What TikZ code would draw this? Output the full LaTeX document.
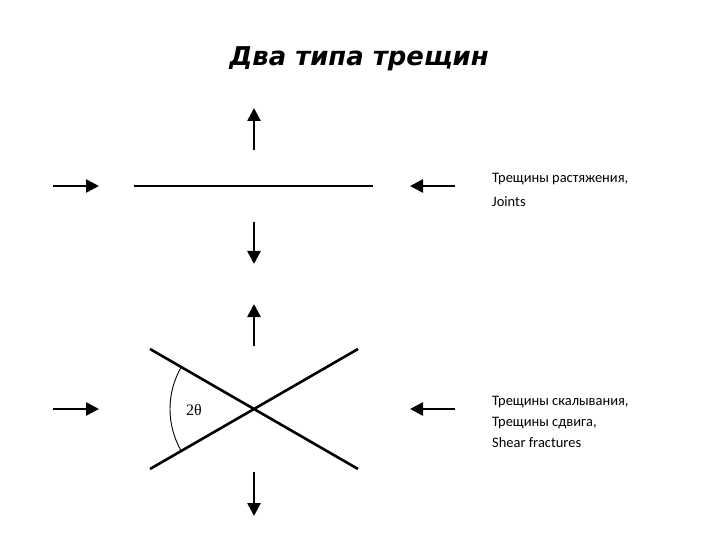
\documentclass[tikz,border=0pt]{standalone}
\usepackage{fontspec}
\setmainfont{Carlito}
\newfontfamily\titlefont{DejaVu Sans}
\newfontfamily\anglefont{Liberation Serif}
\usetikzlibrary{arrows.meta}

\begin{document}
\begin{tikzpicture}[x=1bp,y=-1bp,
    push/.style={line width=2.6bp,-{Triangle[length=13bp,width=13bp]}},
    crack/.style={line width=2.6bp},
    caption/.style={anchor=north west,align=left,inner sep=0pt,
        font=\fontsize{14.5}{21}\selectfont}]
    \useasboundingbox (0,0) rectangle (720,540);
    \node[font=\titlefont\bfseries\itshape\fontsize{26}{30}\selectfont] (title) at (359,59) {Два типа трещин};
    % tension joint
    \coordinate (J1) at (134,186);
    \coordinate (J2) at (373,186);
    \coordinate (JupS) at (254,150);
    \coordinate (JupE) at (254,108);
    \coordinate (JdnS) at (254,222);
    \coordinate (JdnE) at (254,264);
    \coordinate (JlS) at (53,186);
    \coordinate (JlE) at (99,186);
    \coordinate (JrS) at (455,186);
    \coordinate (JrE) at (410,186);
    \draw[crack] (J1) -- (J2);
    \draw[push] (JupS) -- (JupE);
    \draw[push] (JdnS) -- (JdnE);
    \draw[push] (JlS) -- (JlE);
    \draw[push] (JrS) -- (JrE);
    \node[caption] (joints) at (492,173) {Трещины растяжения,\\[3bp]Joints};
    % shear fractures
    \coordinate (O) at (254,409);
    \coordinate (S1) at (150,349);
    \coordinate (S2) at (358,469);
    \coordinate (S3) at (150,469);
    \coordinate (S4) at (358,349);
    \coordinate (SupS) at (254,346);
    \coordinate (SupE) at (254,304);
    \coordinate (SdnS) at (254,472);
    \coordinate (SdnE) at (254,516);
    \coordinate (SlS) at (53,409);
    \coordinate (SlE) at (99,409);
    \coordinate (SrS) at (455,409);
    \coordinate (SrE) at (410,409);
    \draw[crack] (S1) -- (S2);
    \draw[crack] (S3) -- (S4);
    \draw[line width=0.9bp] ([shift={(150:84)}]O) arc[start angle=150,end angle=210,radius=84];
    \node[font=\anglefont\fontsize{16}{18}\selectfont] (theta) at (194,410) {2θ};
    \draw[push] (SupS) -- (SupE);
    \draw[push] (SdnS) -- (SdnE);
    \draw[push] (SlS) -- (SlE);
    \draw[push] (SrS) -- (SrE);
    \node[caption] (shear) at (492,396) {Трещины скалывания,\\Трещины сдвига,\\Shear fractures};
\end{tikzpicture}
\end{document}
